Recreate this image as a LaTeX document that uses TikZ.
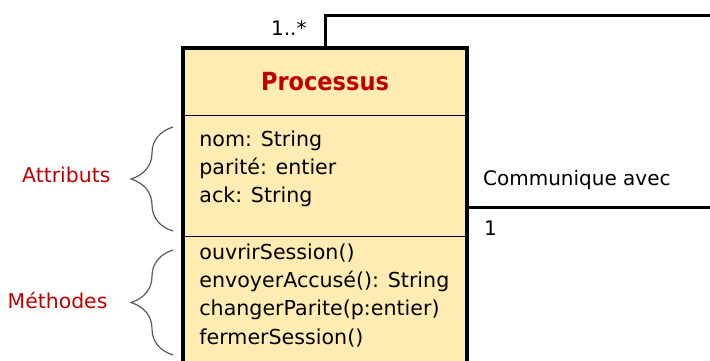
\documentclass[tikz,border=0pt]{standalone}
\usepackage{fontspec}
\setmainfont{DejaVu Sans}
\newfontfamily\condfont{DejaVu Sans Condensed}
\usetikzlibrary{positioning,fit,decorations.pathreplacing}
\definecolor{cFill}  {RGB}{255,236,178}
\definecolor{cRed}   {RGB}{192,  0,  0}
\definecolor{cBrace} {RGB}{ 90, 90, 90}

\begin{document}
\begin{tikzpicture}[
  x=0.5pt, y=-0.5pt,
  %% ── class compartment ─────────────────────────────────────────────────
  SEC/.style={
    draw=black, fill=cFill, line width=0.5pt,
    minimum width=142pt, inner sep=0pt, outer sep=0pt
  },
  %% ── member list ───────────────────────────────────────────────────────
  M/.style={font=\fontsize{10.3}{14.2}\selectfont, align=left,
            inner sep=0pt, anchor=north west},
  %% ── association line ──────────────────────────────────────────────────
  ASSOC/.style={line width=1.5pt},
  %% ── curly brace ───────────────────────────────────────────────────────
  BR/.style={draw=cBrace, line width=0.6pt, decorate,
             decoration={brace, amplitude=21pt}},
  %% ── red side label / plain label ──────────────────────────────────────
  LBL/.style={font=\fontsize{10.2}{12}\selectfont, text=cRed, inner sep=0pt},
  T/.style={font=\fontsize{10}{12}\selectfont, inner sep=0pt},
]
\useasboundingbox (0,0) rectangle (710,360);
\clip (0,0) rectangle (710,360);

%% ═══════════════════════════════════════════════════════════════════════
%%  CLASS BOX
%% ═══════════════════════════════════════════════════════════════════════

\node[SEC, minimum height=33.5pt, anchor=north west, text=cRed,
      font=\condfont\bfseries\fontsize{12.5}{14}\selectfont] (title) at (183,48) {Processus};
\node[SEC, minimum height=60.5pt, below=0pt of title] (attr) {};
\node[SEC, minimum height=82pt,   below=0pt of attr]  (meth) {};
\node[draw, line width=1.7pt, inner sep=0pt, fit=(title)(attr)(meth)] (cls) {};

\node[M] (attrtxt) at ([xshift=8pt,yshift=-7.5pt]attr.north west) {%
  nom: String\\
  parité: entier\\
  ack: String};

\node[M] (methtxt) at ([xshift=8pt,yshift=-3.5pt]meth.north west) {%
  ouvrirSession()\\
  envoyerAccusé(): String\\
  changerParite(p:entier)\\
  fermerSession()};

%% ═══════════════════════════════════════════════════════════════════════
%%  SELF ASSOCIATION
%% ═══════════════════════════════════════════════════════════════════════

\coordinate (upR) at (730,15);
\coordinate (loR) at (730,207);
\coordinate (loL) at (cls.east |- loR);

\draw[ASSOC] (cls.north) |- (upR);
\draw[ASSOC] (loL) -- (loR);

\node[T, anchor=south east] (mult1) at ([xshift=-9pt,yshift=5pt]cls.north) {1..*};
\node[T, anchor=base west]  (assoc) at ([xshift=7pt,yshift=11pt]loL) {Communique avec};
\node[T, anchor=north west] (mult2) at ([xshift=7.5pt,yshift=-7pt]loL) {1};

%% ═══════════════════════════════════════════════════════════════════════
%%  BRACES
%% ═══════════════════════════════════════════════════════════════════════

\draw[BR] (173,231) -- node[LBL, left=31pt, yshift=2pt] (lblA) {Attributs} (173,127);
\draw[BR] (173,355) -- node[LBL, left=32.5pt, yshift=1pt] (lblM) {Méthodes} (173,250);

\end{tikzpicture}
\end{document}
